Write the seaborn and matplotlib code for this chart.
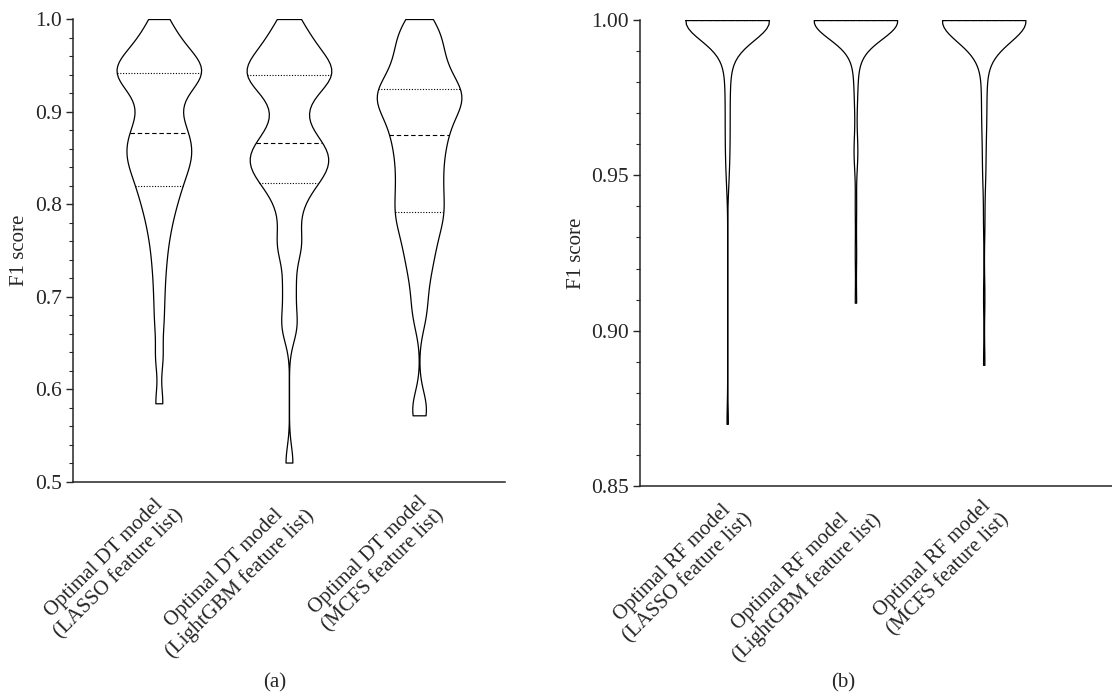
import numpy as np
import pandas as pd
import matplotlib
matplotlib.use("Agg")
import matplotlib.pyplot as plt
import seaborn as sns
from matplotlib.ticker import MultipleLocator, FormatStrFormatter

# F1 scores (DT panel)
dt_labels = ["Optimal DT model\n(LASSO feature list)",
             "Optimal DT model\n(LightGBM feature list)",
             "Optimal DT model\n(MCFS feature list)"]
dt_lasso = [0.585, 0.635, 0.672, 0.70, 0.725, 0.745, 0.762, 0.775, 0.786, 0.796, 0.804, 0.811, 0.818,
            0.824, 0.83, 0.836, 0.841, 0.845, 0.849, 0.853, 0.857, 0.862, 0.866, 0.871, 0.875,
            0.879, 0.884, 0.89, 0.898, 0.906, 0.913, 0.92, 0.926, 0.93, 0.934, 0.937, 0.94,
            0.942, 0.944, 0.946, 0.949, 0.952, 0.955, 0.959, 0.963, 0.968, 0.974, 0.981, 0.99, 1.0]
dt_lightgbm = [0.521, 0.665, 0.672, 0.70, 0.72, 0.748, 0.755, 0.762, 0.78, 0.795, 0.805, 0.815,
               0.822, 0.826, 0.83, 0.834, 0.838, 0.842, 0.845, 0.848, 0.851, 0.854, 0.858, 0.862, 0.865,
               0.868, 0.874, 0.882, 0.892, 0.903, 0.912, 0.92, 0.927, 0.932, 0.935, 0.937, 0.938,
               0.94, 0.943, 0.946, 0.949, 0.952, 0.956, 0.96, 0.965, 0.97, 0.976, 0.983, 0.992, 1.0]
dt_mcfs = [0.572, 0.585, 0.675, 0.695, 0.715, 0.73, 0.742, 0.752, 0.762, 0.771, 0.779, 0.786,
           0.79, 0.797, 0.804, 0.811, 0.818, 0.825, 0.832, 0.839, 0.846, 0.853, 0.86, 0.866, 0.872,
           0.877, 0.883, 0.889, 0.894, 0.899, 0.903, 0.907, 0.911, 0.914, 0.917, 0.92, 0.922,
           0.925, 0.929, 0.934, 0.94, 0.946, 0.952, 0.958, 0.965, 0.972, 0.979, 0.986, 0.993, 1.0]

# RF panel: most folds hit 1.0
rf_labels = ["Optimal RF model\n(LASSO feature list)",
             "Optimal RF model\n(LightGBM feature list)",
             "Optimal RF model\n(MCFS feature list)"]
rf_lasso = [1.0] * 60 + [0.998, 0.997, 0.995, 0.994, 0.992, 0.99, 0.988, 0.985, 0.982, 0.978,
                         0.974, 0.97, 0.966, 0.962, 0.958, 0.954, 0.948, 0.87]
rf_lightgbm = [1.0] * 60 + [0.998, 0.997, 0.995, 0.993, 0.991, 0.989, 0.986, 0.982, 0.977, 0.972,
                            0.96, 0.958, 0.955, 0.94, 0.925, 0.909]
rf_mcfs = [1.0] * 60 + [0.998, 0.997, 0.995, 0.993, 0.991, 0.988, 0.985, 0.981, 0.977, 0.973,
                        0.969, 0.965, 0.961, 0.952, 0.95, 0.935, 0.911, 0.889]

FS = 15.5


def long_df(labels, series):
    rows = []
    for lab, vals in zip(labels, series):
        rows += [(lab, v) for v in vals]
    return pd.DataFrame(rows, columns=["model", "f1"])


sns.set_style("ticks")
plt.rcParams["font.family"] = ["Liberation Serif", "DejaVu Serif"]
plt.rcParams["font.size"] = FS

fig = plt.figure(figsize=(11.12, 6.97), dpi=100)
ax1 = fig.add_axes([0.0656, 0.3085, 0.3885, 0.6642])
ax2 = fig.add_axes([0.5755, 0.3027, 0.4245, 0.6686])


def draw(ax, labels, series, bw):
    df = long_df(labels, series)
    sns.violinplot(data=df, x="model", y="f1", order=labels, ax=ax, color="white",
                   linecolor="black", linewidth=0.9, inner="quart", cut=0,
                   density_norm="width", width=0.65, bw_adjust=bw, saturation=1)
    # quartiles dotted, median dashed
    for i, ln in enumerate(ax.lines):
        if i % 3 == 1:
            ln.set_linestyle((0, (4, 2.5)))
        else:
            ln.set_linestyle((0, (1, 1.5)))
        ln.set_linewidth(0.8)
        ln.set_color("black")
    for s in ["top", "right"]:
        ax.spines[s].set_visible(False)
    for s in ["left", "bottom"]:
        ax.spines[s].set_linewidth(1.1)
    ax.set_xlabel("")
    ax.set_ylabel("F1 score", fontsize=15)
    ax.tick_params(axis="x", length=0, pad=6)
    ax.tick_params(axis="y", which="major", length=5, width=1, direction="out", labelsize=FS, pad=3)
    ax.tick_params(axis="y", which="minor", length=3, width=0.8, direction="out")
    for t in ax.get_xticklabels():
        t.set_rotation(45)
        t.set_ha("right")
        t.set_va("top")
        t.set_rotation_mode("anchor")
        t.set_multialignment("center")
        t.set_fontsize(15)


draw(ax1, dt_labels, [dt_lasso, dt_lightgbm, dt_mcfs], 0.4)
ax1.set_ylim(0.5, 1.0)
ax1.set_xlim(-0.66, 2.66)
ax1.yaxis.set_major_locator(MultipleLocator(0.1))
ax1.yaxis.set_minor_locator(MultipleLocator(0.02))
ax1.yaxis.set_major_formatter(FormatStrFormatter("%.1f"))

draw(ax2, rf_labels, [rf_lasso, rf_lightgbm, rf_mcfs], 0.8)
ax2.set_ylim(0.85, 1.0)
ax2.set_xlim(-0.68, 3.0)
ax2.yaxis.set_major_locator(MultipleLocator(0.05))
ax2.yaxis.set_minor_locator(MultipleLocator(0.01))
ax2.yaxis.set_major_formatter(FormatStrFormatter("%.2f"))

fig.text(275 / 1112, 1 - 683 / 697, "(a)", ha="center", va="center", fontsize=15)
fig.text(843 / 1112, 1 - 683 / 697, "(b)", ha="center", va="center", fontsize=15)

fig.savefig("out.png", dpi=100)
